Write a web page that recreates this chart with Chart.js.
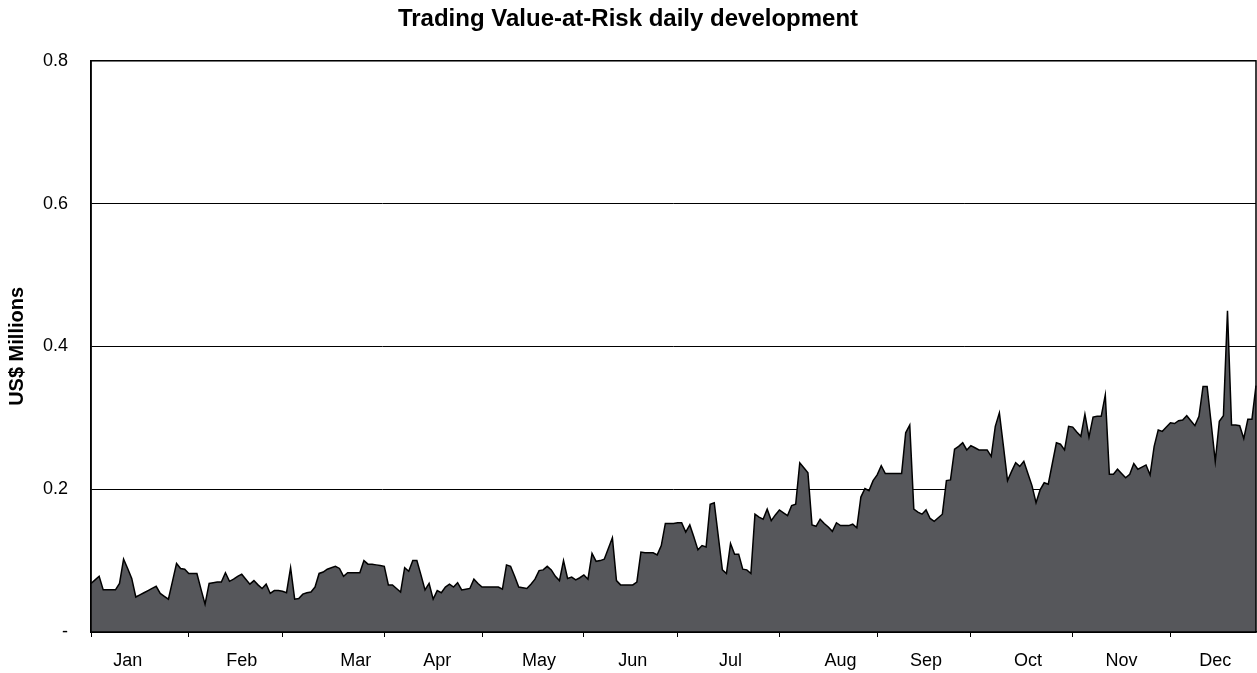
<!DOCTYPE html>
<html>
<head>
    <title>Trading Value-at-Risk daily development</title>
    <script src="https://cdn.jsdelivr.net/npm/chart.js@4/dist/chart.umd.min.js"></script>
    <style>
        body { margin: 0; background: #fff; }
        #wrap { width: 1257px; height: 673px; }
    </style>
</head>
<body>
    <div id="wrap"><canvas id="varChart"></canvas></div>

    <script>
        // Daily VaR (US$ millions), one array per month
        var jan = [.068, .073, .078, .059, .059, .059, .059, .068, .102, .089, .075, .049, .052, .055, .058, .061, .064, .054, .050, .046, .071, .096, .089, .088];
        var feb = [.082, .082, .082, .060, .039, .068, .069, .070, .070, .083, .071, .074, .078, .081, .074, .067, .072, .066, .061, .067, .054, .058, .058];
        var mar = [.057, .055, .090, .046, .047, .053, .055, .056, .063, .082, .084, .088, .090, .092, .089, .078, .083, .083, .083, .083, .100, .095, .095, .094, .093];
        var apr = [.092, .066, .066, .061, .056, .090, .085, .100, .100, .080, .059, .068, .046, .058, .055, .063, .067, .063, .069, .059, .060, .061, .074, .068];
        var may = [.063, .063, .063, .063, .063, .060, .094, .092, .078, .063, .062, .061, .067, .074, .086, .087, .092, .087, .078, .072, .100, .075, .077, .073, .076];
        var jun = [.080, .074, .110, .099, .100, .102, .117, .132, .072, .066, .066, .066, .066, .070, .112, .111, .111, .111, .108, .121, .152, .152, .152];
        var jul = [.153, .153, .140, .150, .133, .115, .121, .119, .179, .181, .134, .087, .082, .124, .109, .109, .088, .087, .082, .165, .161, .158, .172, .156, .164];
        var aug = [.171, .167, .163, .177, .179, .237, .230, .223, .150, .148, .158, .152, .147, .141, .153, .149, .149, .149, .151, .146, .189, .201, .198, .212];
        var sep = [.220, .233, .222, .222, .222, .222, .222, .279, .290, .172, .168, .165, .171, .159, .155, .160, .165, .212, .213, .256, .260, .265, .255];
        var oct = [.261, .258, .255, .255, .255, .246, .288, .307, .260, .212, .225, .237, .232, .239, .222, .205, .181, .199, .209, .207, .236, .265, .263, .255, .288];
        var nov = [.287, .280, .274, .305, .273, .301, .302, .302, .332, .221, .221, .228, .222, .216, .221, .236, .228, .231, .234, .220, .260, .283, .281, .287];
        var dec = [.293, .292, .296, .297, .303, .296, .289, .302, .344, .344, .292, .239, .295, .303, .450, .290, .290, .289, .271, .298, .298, .345];

        var monthNames = ['Jan', 'Feb', 'Mar', 'Apr', 'May', 'Jun', 'Jul', 'Aug', 'Sep', 'Oct', 'Nov', 'Dec'];
        var yTicks = [0, 0.2, 0.4, 0.6, 0.8];

        var months = [jan, feb, mar, apr, may, jun, jul, aug, sep, oct, nov, dec];
        // where inside each month its name sits (share of the month)
        var labelPos = [0.39, 0.56, 0.71, 0.56, 0.54, 0.53, 0.52, 0.62, 0.54, 0.55, 0.5, 0.5];

        // build the day series + where each month starts / gets its label
        var values = [];
        var monthStart = {};
        var monthLabel = {};
        months.forEach(function (m, i) {
            monthStart[values.length] = true;
            monthLabel[values.length + Math.round(m.length * labelPos[i])] = monthNames[i];
            values = values.concat(m);
        });
        var days = values.map(function (v, i) { return String(i + 1); });

        var font = "'Liberation Sans', Arial, sans-serif";

        // black frame round the plot area
        var frame = {
            id: 'frame',
            afterDatasetsDraw: function (chart) {
                var a = chart.chartArea, c = chart.ctx;
                c.save();
                c.strokeStyle = '#000';
                c.lineWidth = 1.5;
                c.strokeRect(a.left, a.top, a.right - a.left, a.bottom - a.top);
                c.restore();
            }
        };

        var ctx = document.getElementById('varChart').getContext('2d');
        new Chart(ctx, {
            type: 'line',
            data: {
                labels: days,
                datasets: [{
                    data: values,
                    borderColor: '#000',
                    borderWidth: 1.5,
                    backgroundColor: '#56575b',
                    fill: 'origin',
                    pointRadius: 0,
                    tension: 0
                }]
            },
            options: {
                responsive: true,
                maintainAspectRatio: false,
                animation: false,
                layout: { padding: { left: 0, right: 1, top: 0, bottom: 0 } },
                plugins: {
                    legend: { display: false },
                    tooltip: { enabled: false },
                    title: {
                        display: true,
                        text: 'Trading Value-at-Risk daily development',
                        color: '#000',
                        font: { family: font, size: 24, weight: 'bold' },
                        padding: { top: 5, bottom: 27 }
                    }
                },
                scales: {
                    x: {
                        type: 'category',
                        offset: false,
                        afterFit: function (s) {
                            s.height = 41;
                            s.paddingLeft = 0;
                            s.paddingRight = 0;
                        },
                        border: { color: '#000', width: 1.5 },
                        grid: {
                            drawOnChartArea: false,
                            tickLength: 5,
                            tickWidth: 1,
                            tickColor: function (c) { return monthStart[c.index] ? '#000' : 'rgba(0,0,0,0)'; }
                        },
                        ticks: {
                            autoSkip: false,
                            maxRotation: 0,
                            minRotation: 0,
                            padding: 13,
                            color: '#000',
                            font: { family: font, size: 18 },
                            callback: function (v, i) { return monthLabel[i] || ''; }
                        }
                    },
                    y: {
                        min: 0,
                        max: 0.8,
                        afterFit: function (s) { s.width = 91; },
                        afterBuildTicks: function (s) {
                            s.ticks = yTicks.map(function (v) { return { value: v }; });
                        },
                        border: { color: '#000', width: 1.5 },
                        grid: { color: '#000', lineWidth: 1, drawTicks: false },
                        ticks: {
                            padding: 23,
                            color: '#000',
                            font: { family: font, size: 18 },
                            callback: function (v) { return v === 0 ? '-' : v.toFixed(1); }
                        },
                        title: {
                            display: true,
                            text: 'US$ Millions',
                            color: '#000',
                            font: { family: font, size: 20, weight: 'bold' },
                            padding: { top: 5, bottom: 0 }
                        }
                    }
                }
            },
            plugins: [frame]
        });
    </script>
</body>
</html>
